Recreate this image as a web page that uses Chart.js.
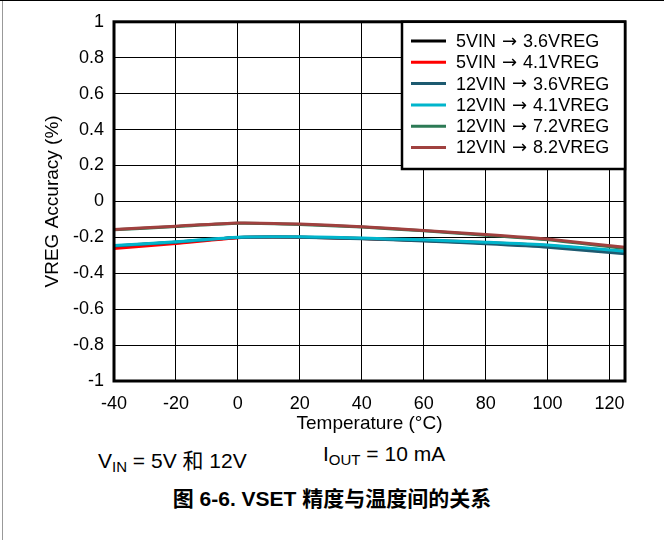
<!DOCTYPE html>
<html lang="zh">
<head>
  <meta charset="UTF-8">
  <title>VSET 精度与温度间的关系</title>
  <script src="https://cdn.jsdelivr.net/npm/chart.js"></script>
  <style>
    body {
      margin: 0;
      background: #fff;
      font-family: "Liberation Sans", Arial, "Noto Sans CJK SC", sans-serif;
    }

    .page {
      position: relative;
      width: 664px;
      height: 540px;
      border-top: 1px solid #000;
      box-sizing: border-box;
    }

    .page::before {
      content: "";
      position: absolute;
      left: 2px;
      top: 0;
      bottom: 0;
      border-left: 1px solid #999;
    }

    #vregChart {
      position: absolute;
      left: 0;
      top: 0;
    }

    .cond {
      position: absolute;
      top: 443px;
      font-size: 21px;
      color: #000;
      white-space: nowrap;
    }

    .cond sub {
      font-size: 15px;
      vertical-align: -4px;
    }

    .caption {
      position: absolute;
      top: 481px;
      left: 0;
      width: 664px;
      text-align: center;
      font-size: 21px;
      font-weight: bold;
    }
  </style>
</head>
<body>
  <div class="page">
    <canvas id="vregChart" width="664" height="440"></canvas>
    <div class="cond" style="left: 98px;">V<sub>IN</sub> = 5V 和 12V</div>
    <div class="cond" style="left: 323px; top: 441px;">I<sub>OUT</sub> = 10 mA</div>
    <div class="caption">图 6-6. VSET 精度与温度间的关系</div>
  </div>

  <script>
    // Temperature points (°C)
    const temps = [-40, -20, 0, 20, 40, 60, 80, 100, 125];

    // VREG accuracy (%) per input/regulation combination
    const vin5Reg36 = [-0.250, -0.228, -0.201, -0.199, -0.207, -0.218, -0.232, -0.250, -0.285];
    const vin5Reg41 = [-0.262, -0.235, -0.202, -0.199, -0.206, -0.216, -0.229, -0.246, -0.280];
    const vin12Reg36 = [-0.248, -0.227, -0.201, -0.199, -0.208, -0.220, -0.236, -0.255, -0.292];
    const vin12Reg41 = [-0.245, -0.225, -0.199, -0.197, -0.204, -0.214, -0.227, -0.243, -0.278];
    const vin12Reg72 = [-0.158, -0.140, -0.122, -0.128, -0.143, -0.164, -0.188, -0.214, -0.262];
    const vin12Reg82 = [-0.156, -0.138, -0.120, -0.126, -0.141, -0.162, -0.184, -0.210, -0.256];

    // legend text: input part, regulation part (joined by an arrow)
    const seriesVin = ['5VIN', '5VIN', '12VIN', '12VIN', '12VIN', '12VIN'];
    const seriesReg = ['3.6VREG', '4.1VREG', '3.6VREG', '4.1VREG', '7.2VREG', '8.2VREG'];
    const seriesColors = ['#000000', '#ff0000', '#1d5a70', '#00b5cc', '#2c7a55', '#a0413f'];
    const seriesData = [vin5Reg36, vin5Reg41, vin12Reg36, vin12Reg41, vin12Reg72, vin12Reg82];

    // Axis ticks
    const xTicks = [-40, -20, 0, 20, 40, 60, 80, 100, 120];
    const yTicks = [-1, -0.8, -0.6, -0.4, -0.2, 0, 0.2, 0.4, 0.6, 0.8, 1];

    const fontFamily = '"Liberation Sans", Arial, sans-serif';

    const datasets = seriesData.map((vals, i) => ({
      label: seriesVin[i] + ' \u2192 ' + seriesReg[i],
      data: temps.map((t, j) => ({ x: t, y: vals[j] })),
      borderColor: seriesColors[i],
      backgroundColor: seriesColors[i],
      borderWidth: 3,
      pointRadius: 0,
      tension: 0.2,
      fill: false,
      // later series sit on top
      order: seriesData.length - i
    }));

    // Heavy frame around the plot plus the boxed legend in the upper right
    const frameAndLegend = {
      id: 'frameAndLegend',
      afterDatasetsDraw(chart) {
        const { ctx, chartArea: a } = chart;
        ctx.save();
        ctx.strokeStyle = '#000';
        ctx.lineWidth = 3;
        ctx.strokeRect(a.left, a.top, a.right - a.left, a.bottom - a.top);

        const box = { left: 402, top: a.top, right: a.right, bottom: 168 };
        ctx.fillStyle = '#fff';
        ctx.fillRect(box.left, box.top, box.right - box.left, box.bottom - box.top);
        ctx.lineWidth = 2.5;
        ctx.strokeRect(box.left, box.top, box.right - box.left, box.bottom - box.top);

        ctx.textBaseline = 'middle';
        ctx.textAlign = 'left';
        seriesVin.forEach((vin, i) => {
          const y = 40 + i * 21.3;
          ctx.strokeStyle = seriesColors[i];
          ctx.lineWidth = 3;
          ctx.beginPath();
          ctx.moveTo(411, y);
          ctx.lineTo(446, y);
          ctx.stroke();

          ctx.fillStyle = '#000';
          let x = 456;
          ctx.font = '18px ' + fontFamily;
          ctx.fillText(vin, x, y + 1);
          x += ctx.measureText(vin).width + 6;
          ctx.font = '18px "DejaVu Sans"';
          ctx.fillText('\u2192', x, y + 1);
          x += ctx.measureText('\u2192').width + 6;
          ctx.font = '18px ' + fontFamily;
          ctx.fillText(seriesReg[i], x, y + 1);
        });
        ctx.restore();
      }
    };

    new Chart(document.getElementById('vregChart'), {
      type: 'line',
      data: { datasets },
      options: {
        responsive: false,
        animation: false,
        devicePixelRatio: 1,
        layout: { padding: { left: 0, right: 39, top: 18, bottom: 0 } },
        plugins: {
          legend: { display: false },
          tooltip: { enabled: false }
        },
        scales: {
          x: {
            type: 'linear',
            min: -40,
            max: 125,
            afterBuildTicks: (axis) => { axis.ticks = xTicks.map(v => ({ value: v })); },
            afterFit: (axis) => { axis.height = 60; },
            border: { display: false },
            grid: { color: '#000', lineWidth: 1, drawTicks: false },
            ticks: {
              padding: 12,
              color: '#000',
              maxRotation: 0,
              font: { family: fontFamily, size: 18 }
            },
            title: {
              display: true,
              text: 'Temperature (\u00b0C)',
              color: '#000',
              font: { family: fontFamily, size: 19 },
              padding: { top: 0, bottom: 6 }
            }
          },
          y: {
            min: -1,
            max: 1,
            afterBuildTicks: (axis) => { axis.ticks = yTicks.map(v => ({ value: v })); },
            afterFit: (axis) => { axis.width = 114; },
            border: { display: false },
            grid: { color: '#000', lineWidth: 1, drawTicks: false },
            ticks: {
              padding: 10,
              color: '#000',
              font: { family: fontFamily, size: 18 },
              callback: (v) => String(Math.round(v * 10) / 10)
            },
            title: {
              display: true,
              text: 'VREG Accuracy (%)',
              color: '#000',
              font: { family: fontFamily, size: 19 },
              padding: { top: 41, bottom: 0 }
            }
          }
        }
      },
      plugins: [frameAndLegend]
    });
  </script>
</body>
</html>
